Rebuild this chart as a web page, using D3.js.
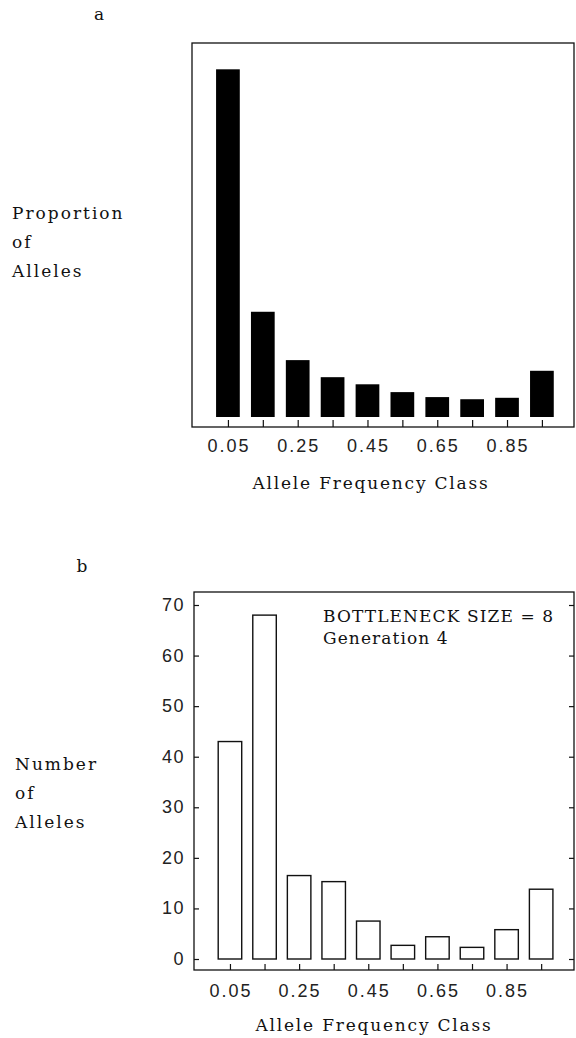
<!DOCTYPE html>
<html><head><meta charset="utf-8">
<script src="https://cdn.jsdelivr.net/npm/d3@7"></script>
<style>
body{margin:0;background:#fff;}
.serif{font-family:"DejaVu Serif",serif;fill:#111;}
.sans{font-family:"Liberation Sans",Arial,sans-serif;fill:#222;}
</style></head>
<body>
<script>
// Data
const classes = [0.05,0.15,0.25,0.35,0.45,0.55,0.65,0.75,0.85,0.95];
const proportionA = [0.489,0.148,0.080,0.056,0.046,0.035,0.028,0.025,0.027,0.065];
const countsB = [43,68,16.5,15.3,7.5,2.7,4.4,2.3,5.8,13.8];
const xTickLabels = [0.05,0.25,0.45,0.65,0.85];
const yTicksB = [0,10,20,30,40,50,60,70];

const W=576,H=1038;
const svg=d3.select("body").append("svg").attr("width",W).attr("height",H);

function textBlock(x,y,lines,gap){
  lines.forEach((t,i)=>svg.append("text").attr("class","serif").attr("x",x).attr("y",y+i*gap)
    .attr("font-size",17).attr("letter-spacing",2).text(t));
}

// ---------- Panel a ----------
const xa=d3.scaleLinear().domain([-0.053,1.042]).range([192,574]);
const ya=d3.scaleLinear().domain([0,0.526]).range([417,43]);
const bw=0.068;
const ga=svg.append("g");
ga.append("rect").attr("x",192).attr("y",43).attr("width",574-192).attr("height",427-43)
  .attr("fill","none").attr("stroke","#111").attr("stroke-width",1.3);
ga.selectAll("rect.bar").data(classes).join("rect").attr("class","bar")
  .attr("x",d=>xa(d-bw/2)).attr("width",d=>xa(d+bw/2)-xa(d-bw/2))
  .attr("y",(d,i)=>ya(proportionA[i])).attr("height",(d,i)=>ya(0)-ya(proportionA[i]))
  .attr("fill","#000");
const axA=d3.axisBottom(xa).tickValues(classes).tickSize(-7).tickPadding(0).tickFormat("");
const gaxA=ga.append("g").attr("transform","translate(0,427)").call(axA);
gaxA.select(".domain").remove();
gaxA.selectAll("line").attr("stroke","#111").attr("stroke-width",1.2);
ga.selectAll("text.xl").data(xTickLabels).join("text").attr("class","sans xl")
  .attr("x",d=>xa(d)+1).attr("y",452).attr("text-anchor","middle").attr("font-size",18)
  .attr("letter-spacing",2).text(d=>d.toFixed(2));
svg.append("text").attr("class","serif").attr("x",371).attr("y",489).attr("text-anchor","middle")
  .attr("font-size",17).attr("letter-spacing",1.8).text("Allele Frequency Class");
svg.append("text").attr("class","serif").attr("x",99).attr("y",20).attr("text-anchor","middle")
  .attr("font-size",17).text("a");
textBlock(12,219,["Proportion","of","Alleles"],29);

// ---------- Panel b ----------
const xb=d3.scaleLinear().domain([-0.054,1.045]).range([194,574]);
const yb=d3.scaleLinear().domain([0,70]).range([959,605]);
const gb=svg.append("g");
gb.append("rect").attr("x",194).attr("y",592).attr("width",574-194).attr("height",970-592)
  .attr("fill","none").attr("stroke","#111").attr("stroke-width",1.3);
gb.selectAll("rect.bar").data(classes).join("rect").attr("class","bar")
  .attr("x",d=>xb(d-bw/2)).attr("width",d=>xb(d+bw/2)-xb(d-bw/2))
  .attr("y",(d,i)=>yb(countsB[i])).attr("height",(d,i)=>yb(0)-yb(countsB[i]))
  .attr("fill","#fff").attr("stroke","#111").attr("stroke-width",1.4);
const axB=d3.axisBottom(xb).tickValues(classes).tickSize(-6).tickFormat("");
const gaxB=gb.append("g").attr("transform","translate(0,970)").call(axB);
gaxB.select(".domain").remove();
gaxB.selectAll("line").attr("stroke","#111").attr("stroke-width",1.2);
const ayL=d3.axisLeft(yb).tickValues(yTicksB).tickSize(-5).tickFormat("");
const gyl=gb.append("g").attr("transform","translate(194,0)").call(ayL);
gyl.select(".domain").remove();
gyl.selectAll("line").attr("stroke","#111").attr("stroke-width",1.2);
const ayR=d3.axisRight(yb).tickValues(yTicksB).tickSize(-5).tickFormat("");
const gyr=gb.append("g").attr("transform","translate(574,0)").call(ayR);
gyr.select(".domain").remove();
gyr.selectAll("line").attr("stroke","#111").attr("stroke-width",1.2);
gb.selectAll("text.yl").data(yTicksB).join("text").attr("class","sans yl")
  .attr("x",185).attr("y",d=>yb(d)+6).attr("text-anchor","end").attr("font-size",18)
  .attr("letter-spacing",1.5).text(d=>d);
gb.selectAll("text.xl").data(xTickLabels).join("text").attr("class","sans xl")
  .attr("x",d=>xb(d)+1).attr("y",997).attr("text-anchor","middle").attr("font-size",18)
  .attr("letter-spacing",2).text(d=>d.toFixed(2));
svg.append("text").attr("class","serif").attr("x",374).attr("y",1031).attr("text-anchor","middle")
  .attr("font-size",17).attr("letter-spacing",1.8).text("Allele Frequency Class");
svg.append("text").attr("class","serif").attr("x",323).attr("y",622)
  .attr("font-size",17).attr("letter-spacing",1.1).text("BOTTLENECK SIZE = 8");
svg.append("text").attr("class","serif").attr("x",323).attr("y",644)
  .attr("font-size",17).attr("letter-spacing",1.1).text("Generation 4");
svg.append("text").attr("class","serif").attr("x",82).attr("y",572).attr("text-anchor","middle")
  .attr("font-size",17).text("b");
textBlock(15,770,["Number","of","Alleles"],29);
</script>
</body></html>
